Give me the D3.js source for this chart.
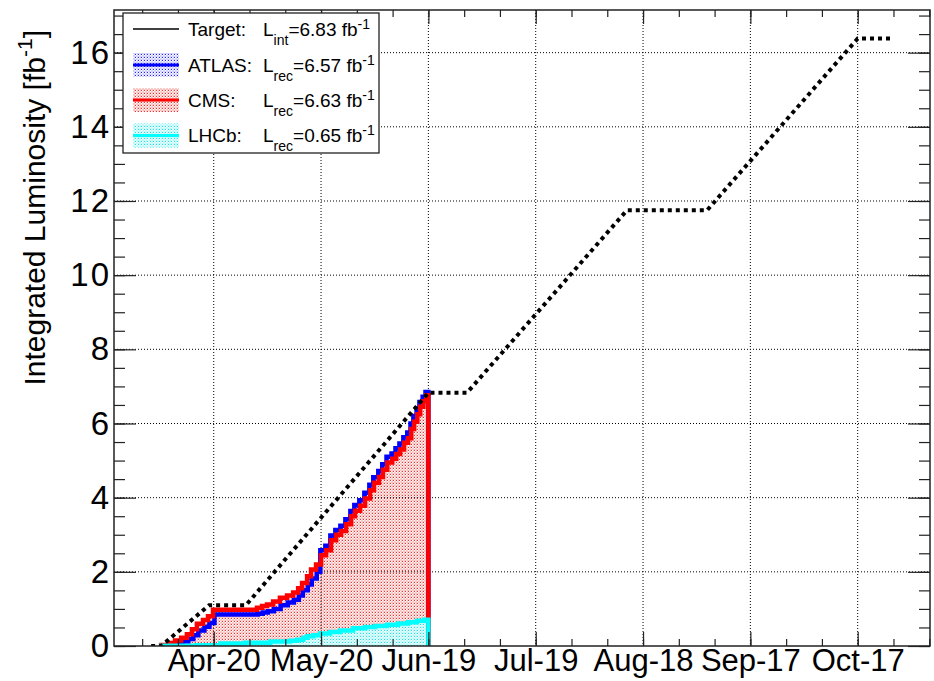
<!DOCTYPE html>
<html><head><meta charset="utf-8">
<script src="https://cdn.jsdelivr.net/npm/d3@7"></script>
<style>
body{margin:0;background:#fff}
svg{display:block}
text{font-family:"Liberation Sans",Arial,Helvetica,sans-serif;fill:#000}
</style>
</head><body>
<svg id="c" width="934" height="681"></svg>
<script>
// ---------------- data (days counted from 2012-04-01 00:00 UTC) ----------------
const targetDay  = [1.5, 4.3, 17.7, 28.0, 79.0, 89.8, 134.5, 156.9, 199.0, 208.9];
const targetLumi = [0, 0, 1.1, 1.1, 6.83, 6.83, 11.75, 11.75, 16.38, 16.38];

const cmsDay  = [4.3, 6.2, 8.2, 9.9, 11.5, 12.9, 14.3, 16.0, 17.4, 18.8, 31.1, 32.5, 33.9, 35.6, 37.5, 39.5, 41.2, 42.6, 43.7, 45.1, 46.2, 47.6, 49.0, 50.4, 51.8, 53.2, 54.6, 56.0, 57.4, 58.5, 59.9, 61.3, 62.7, 63.8, 65.2, 66.3, 67.5, 68.9, 70.0, 71.1, 72.2, 73.3, 74.2, 75.0, 75.9, 76.7, 77.6, 78.4];
const cmsLumi = [0.03, 0.08, 0.15, 0.22, 0.32, 0.45, 0.60, 0.70, 0.80, 0.98, 1.03, 1.08, 1.12, 1.20, 1.30, 1.36, 1.44, 1.56, 1.70, 1.88, 2.06, 2.20, 2.45, 2.58, 2.85, 3.00, 3.10, 3.28, 3.50, 3.65, 3.78, 3.98, 4.20, 4.40, 4.56, 4.75, 4.95, 5.05, 5.18, 5.30, 5.48, 5.60, 5.85, 6.05, 6.25, 6.45, 6.60, 6.76];

const atlasDay  = [4.6, 6.6, 8.6, 10.3, 11.9, 13.3, 14.7, 16.4, 17.8, 19.2, 31.3, 32.7, 34.1, 35.8, 37.7, 39.7, 41.4, 42.8, 43.9, 45.3, 46.4, 47.8, 48.8, 50.2, 51.6, 53.0, 54.4, 55.8, 57.2, 58.3, 59.7, 61.1, 62.5, 63.6, 65.0, 66.1, 67.3, 68.7, 69.8, 70.9, 72.0, 73.1, 74.0, 74.8, 75.7, 76.5, 77.4, 78.2];
const atlasLumi = [0.01, 0.03, 0.07, 0.12, 0.19, 0.29, 0.42, 0.52, 0.62, 0.85, 0.87, 0.90, 0.94, 1.00, 1.10, 1.17, 1.25, 1.36, 1.50, 1.66, 1.82, 2.00, 2.58, 2.70, 2.98, 3.13, 3.24, 3.42, 3.64, 3.80, 3.93, 4.13, 4.35, 4.55, 4.72, 4.90, 5.10, 5.19, 5.33, 5.46, 5.63, 5.76, 6.00, 6.20, 6.40, 6.58, 6.72, 6.85];

const lhcbDay  = [4.3, 14.2, 20.8, 27.8, 34.8, 40.3, 42.3, 44.0, 45.1, 46.8, 48.7, 51.5, 54.3, 57.9, 61.3, 64.1, 67.4, 70.5, 73.3, 75.8, 77.8];
const lhcbLumi = [0.005, 0.02, 0.07, 0.09, 0.12, 0.14, 0.17, 0.22, 0.26, 0.29, 0.34, 0.38, 0.42, 0.48, 0.51, 0.54, 0.57, 0.61, 0.64, 0.68, 0.71];

const lastDay = 79.0;

const majorTickDates = ["2012-04-20", "2012-05-20", "2012-06-19", "2012-07-19", "2012-08-18", "2012-09-17", "2012-10-17"];
const yMajorTicks = [0, 2, 4, 6, 8, 10, 12, 14, 16];

const legendNames = ["Target:", "ATLAS:", "CMS:", "LHCb:"];
const legendSubs  = ["int", "rec", "rec", "rec"];
const legendVals  = ["6.83", "6.57", "6.63", "0.65"];
const seriesColors = ["#000000", "#0000ff", "#ff0000", "#00ffff"];

// ---------------- layout ----------------
const t0 = Date.UTC(2012, 3, 1);
const dayMs = 864e5;
const toDate = d => new Date(t0 + d * dayMs);
const frame = {l: 114, r: 930, t: 10, b: 646};

const svg = d3.select("#c");
const x = d3.scaleUtc().domain([toDate(-8.875), toDate(219.21)]).range([frame.l, frame.r]);
const y = d3.scaleLinear().domain([0, 17.15]).range([frame.b, frame.t]);

const majorDates = majorTickDates.map(s => new Date(s + "T00:00:00Z"));
const minorDates = d3.range(-2, 30).map(k => new Date(majorDates[0].getTime() + (k * 10 - 10) * dayMs))
  .filter(d => d >= x.domain()[0] && d <= x.domain()[1]);
const yMinor = d3.range(0, 17.01, 0.5);

// patterns (ROOT-like dotted hatching)
const defs = svg.append("defs");
function pattern(id, bg, dot) {
  const p = defs.append("pattern").attr("id", id).attr("width", 3).attr("height", 3)
    .attr("patternUnits", "userSpaceOnUse").attr("shape-rendering", "crispEdges");
  p.append("rect").attr("width", 3).attr("height", 3).attr("fill", bg);
  p.append("rect").attr("width", 1).attr("height", 1).attr("fill", dot);
  p.append("rect").attr("x", 1).attr("y", 0).attr("width", 1).attr("height", 1).attr("fill", "#fff");
  p.append("rect").attr("x", 0).attr("y", 1).attr("width", 1).attr("height", 1).attr("fill", "#fff");
}
pattern("pBlue", "#d4d4ff", "#2020ff");
pattern("pRed", "#fbc8c8", "#f03030");
pattern("pCyan", "#c4fafa", "#10e8e8");

svg.append("clipPath").attr("id", "clipF").append("rect")
  .attr("x", frame.l).attr("y", frame.t).attr("width", frame.r - frame.l).attr("height", frame.b - frame.t);

const plot = svg.append("g").attr("clip-path", "url(#clipF)");

function pts(days, vals) {
  const a = days.map((d, i) => ({d, v: vals[i]}));
  a.push({d: lastDay, v: vals[vals.length - 1]});
  return a;
}
const series = [
  {pts: pts(atlasDay, atlasLumi), col: "#0000ff", pat: "pBlue"},
  {pts: pts(cmsDay, cmsLumi), col: "#ff0000", pat: "pRed"},
  {pts: pts(lhcbDay, lhcbLumi), col: "#00ffff", pat: "pCyan"}
];

const area = d3.area().curve(d3.curveStepAfter)
  .x(p => x(toDate(p.d))).y0(y(0)).y1(p => y(p.v));
const line = d3.line().curve(d3.curveStepAfter)
  .x(p => x(toDate(p.d))).y(p => y(p.v));

// fills
series.forEach(s => {
  plot.append("path").attr("d", area(s.pts)).attr("fill", `url(#${s.pat})`);
});

// grid
plot.append("g").selectAll("line").data(majorDates).join("line")
  .attr("x1", d => x(d)).attr("x2", d => x(d)).attr("y1", frame.t).attr("y2", frame.b)
  .attr("stroke", "#000").attr("stroke-width", 1).attr("stroke-dasharray", "1,2");
plot.append("g").selectAll("line").data(yMajorTicks.filter(v => v > 0)).join("line")
  .attr("x1", frame.l).attr("x2", frame.r).attr("y1", v => y(v)).attr("y2", v => y(v))
  .attr("stroke", "#000").attr("stroke-width", 1).attr("stroke-dasharray", "1,2");

// lines
series.forEach(s => {
  const p = [{d: s.pts[0].d, v: 0}].concat(s.pts, [{d: lastDay, v: 0}]);
  plot.append("path").attr("d", line(p)).attr("fill", "none")
    .attr("stroke", s.col).attr("stroke-width", 4.5).attr("stroke-linejoin", "miter");
});

// target
const tpts = targetDay.map((d, i) => ({d, v: targetLumi[i]}));
plot.append("path").attr("d", d3.line().x(p => x(toDate(p.d))).y(p => y(p.v))(tpts))
  .attr("fill", "none").attr("stroke", "#000").attr("stroke-width", 4).attr("stroke-dasharray", "4,4");

// axes
function styleAxis(g, fs) {
  g.select(".domain").remove();
  g.selectAll(".tick line").attr("stroke", "#222").attr("stroke-width", 1.2);
  g.attr("font-family", null).attr("font-size", fs);
}
svg.append("g").attr("transform", `translate(0,${frame.b})`)
  .call(d3.axisBottom(x).tickValues(majorDates).tickSize(-14).tickPadding(3).tickFormat(d3.utcFormat("%b-%d")))
  .call(g => styleAxis(g, 31));
svg.append("g").attr("transform", `translate(0,${frame.b})`)
  .call(d3.axisBottom(x).tickValues(minorDates).tickSize(-7).tickFormat(""))
  .call(g => styleAxis(g, 10));
svg.append("g").attr("transform", `translate(0,${frame.t})`)
  .call(d3.axisTop(x).tickValues(majorDates).tickSize(-14).tickFormat(""))
  .call(g => styleAxis(g, 10));
svg.append("g").attr("transform", `translate(0,${frame.t})`)
  .call(d3.axisTop(x).tickValues(minorDates).tickSize(-7).tickFormat(""))
  .call(g => styleAxis(g, 10));
svg.append("g").attr("transform", `translate(${frame.l},0)`)
  .call(d3.axisLeft(y).tickValues(yMajorTicks).tickSize(-22).tickPadding(3).tickFormat(d3.format("d")))
  .call(g => styleAxis(g, 33))
  .call(g => g.selectAll(".tick text").attr("letter-spacing", 2));
svg.append("g").attr("transform", `translate(${frame.l},0)`)
  .call(d3.axisLeft(y).tickValues(yMinor).tickSize(-11).tickFormat(""))
  .call(g => styleAxis(g, 10));
svg.append("g").attr("transform", `translate(${frame.r},0)`)
  .call(d3.axisRight(y).tickValues(yMajorTicks).tickSize(-22).tickFormat(""))
  .call(g => styleAxis(g, 10));
svg.append("g").attr("transform", `translate(${frame.r},0)`)
  .call(d3.axisRight(y).tickValues(yMinor).tickSize(-11).tickFormat(""))
  .call(g => styleAxis(g, 10));

svg.append("rect").attr("x", frame.l).attr("y", frame.t)
  .attr("width", frame.r - frame.l).attr("height", frame.b - frame.t)
  .attr("fill", "none").attr("stroke", "#222").attr("stroke-width", 1.5);

// y title
const yt = svg.append("text").attr("transform", "translate(45,30) rotate(-90)")
  .attr("text-anchor", "end").attr("font-size", 30);
yt.append("tspan").text("Integrated Luminosity [fb");
yt.append("tspan").attr("font-size", 21).attr("dy", -13).text("-1");
yt.append("tspan").attr("dy", 13).text("]");

// legend
const lg = svg.append("g");
lg.append("rect").attr("x", 123).attr("y", 13).attr("width", 256).attr("height", 140)
  .attr("fill", "#fff").attr("stroke", "#222").attr("stroke-width", 1.3);
const rowCenter = [29, 65, 100, 135.5];
const pats = [null, "pBlue", "pRed", "pCyan"];
legendNames.forEach((name, i) => {
  const cy = rowCenter[i];
  if (i === 0) {
    lg.append("line").attr("x1", 133).attr("x2", 179).attr("y1", cy).attr("y2", cy)
      .attr("stroke", seriesColors[i]).attr("stroke-width", 1.5);
  } else {
    lg.append("rect").attr("x", 133).attr("y", cy - 12).attr("width", 46).attr("height", 24)
      .attr("fill", `url(#${pats[i]})`);
    lg.append("line").attr("x1", 133).attr("x2", 179).attr("y1", cy).attr("y2", cy)
      .attr("stroke", seriesColors[i]).attr("stroke-width", 3);
  }
  const by = cy + 6.5;
  lg.append("text").attr("x", 188).attr("y", by).attr("font-size", 19).text(name);
  const t = lg.append("text").attr("x", 263).attr("y", by).attr("font-size", 19);
  t.append("tspan").text("L");
  t.append("tspan").attr("font-size", 14).attr("dy", 9).text(legendSubs[i]);
  t.append("tspan").attr("dy", -9).text("=" + legendVals[i] + " fb");
  t.append("tspan").attr("font-size", 14).attr("dy", -7).text("-1");
});
</script>
</body></html>
